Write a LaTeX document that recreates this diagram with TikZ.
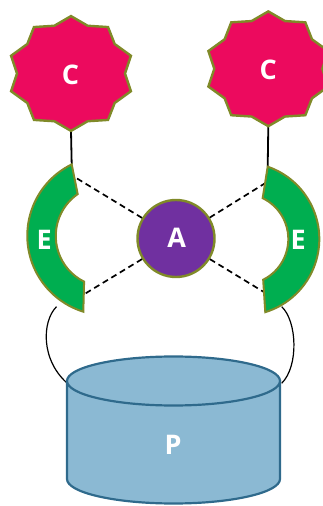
\documentclass[tikz,border=0pt]{standalone}
\usepackage{fontspec}
\setmainfont{Open Sans}
\begin{document}
\begin{tikzpicture}[x=1pt,y=1pt,
  olive/.style={draw={rgb,255:red,128;green,138;blue,40}},
  cstar/.style={olive, line width=2.4pt, fill={rgb,255:red,236;green,10;blue,94}, line join=miter},
  ebox/.style={olive, line width=2pt, fill={rgb,255:red,0;green,174;blue,80}},
  abox/.style={circle, olive, line width=2.4pt, fill={rgb,255:red,112;green,48;blue,160}, minimum size=77pt, inner sep=0pt},
  cyl/.style={draw={rgb,255:red,47;green,106;blue,140}, line width=2.2pt, fill={rgb,255:red,139;green,185;blue,211}},
  lbl/.style={text=white, font=\fontsize{27}{32}\selectfont\bfseries, inner sep=0pt},
  link/.style={draw=black, line width=1.8pt},
  loop/.style={draw=black, line width=1.2pt},
  dashline/.style={draw=black, line width=1.7pt, dash pattern=on 6pt off 4pt},
  burst/.pic={
    \draw[cstar] plot[samples at={0,...,19}, variable=\k]
      ({ifthenelse(mod(\k,2)==0,63,54)*cos(90+18*\k)},
       {ifthenelse(mod(\k,2)==0,57.4,50.2)*sin(90+18*\k)}) -- cycle;
  }]
\useasboundingbox (0,0) rectangle (323,506);

% anchor points on the shapes
\coordinate (cLb) at (71,375.1);      % bottom tip of left star
\coordinate (cRb) at (268.3,379.8);   % bottom tip of right star
\coordinate (eLt) at (71.7,341.6);    % top corner of left arc
\coordinate (eRt) at (267.7,339.3);   % top corner of right arc
\coordinate (eLu) at (76.7,327.7);    % left arc, upper end face
\coordinate (eLd) at (85.7,212.7);    % left arc, lower end face
\coordinate (eRu) at (265,322.7);     % right arc, upper end face
\coordinate (eRd) at (263.3,214.3);   % right arc, lower end face
\coordinate (eLo) at (56.5,199.3);    % left arc, outer rim near bottom
\coordinate (eRo) at (281.7,199.3);   % right arc, outer rim near bottom
\coordinate (pL) at (69.3,121);       % cylinder rim, left
\coordinate (pR) at (281.7,122.7);    % cylinder rim, right

% curved links from the arcs down to the cylinder
\draw[loop] (eLo) .. controls (42,185) and (40,145) .. (pL);
\draw[loop] (eRo) .. controls (297,185) and (299,140) .. (pR);

% cylinder P
\path[cyl] (67,125) -- (67,27) arc[start angle=180, end angle=360, x radius=106.5, y radius=24.5] -- (280,125) -- cycle;
\draw[cyl] (173.5,125) ellipse[x radius=106.5, y radius=24.5];
\node[lbl] (P) at (173,61) {P};

% stars C and their links
\draw[link] (cLb) -- (eLt);
\draw[link] (cRb) -- (eRt);
\pic at (71,432.5) {burst};
\pic at (268.3,437.2) {burst};
\node[lbl] (CL) at (70.5,431) {C};
\node[lbl] (CR) at (268.3,436) {C};

% central circle A and dashed links
\node[abox] (A) at (176,267.5) {};
\node[lbl] (Atxt) at (176.7,267.7) {A};
\draw[dashline] (A) -- (eLu);
\draw[dashline] (A) -- (eLd);
\draw[dashline] (A) -- (eRu);
\draw[dashline] (A) -- (eRd);

% arc blocks E
\draw[ebox] (eLt) arc[start angle=116.2, end angle=252.8, radius=79.5]
  -- ++(0.8,30.0) arc[start angle=243.6, end angle=124.8, radius=51] -- cycle;
\draw[ebox] (eRt) arc[start angle=71, end angle=-72.9, radius=76.5]
  -- ++(-2.1,32.4) arc[start angle=-63.4, end angle=64.1, radius=45.5] -- cycle;
\node[lbl] (EL) at (44.3,266) {E};
\node[lbl] (ER) at (298.3,266) {E};
\end{tikzpicture}
\end{document}
